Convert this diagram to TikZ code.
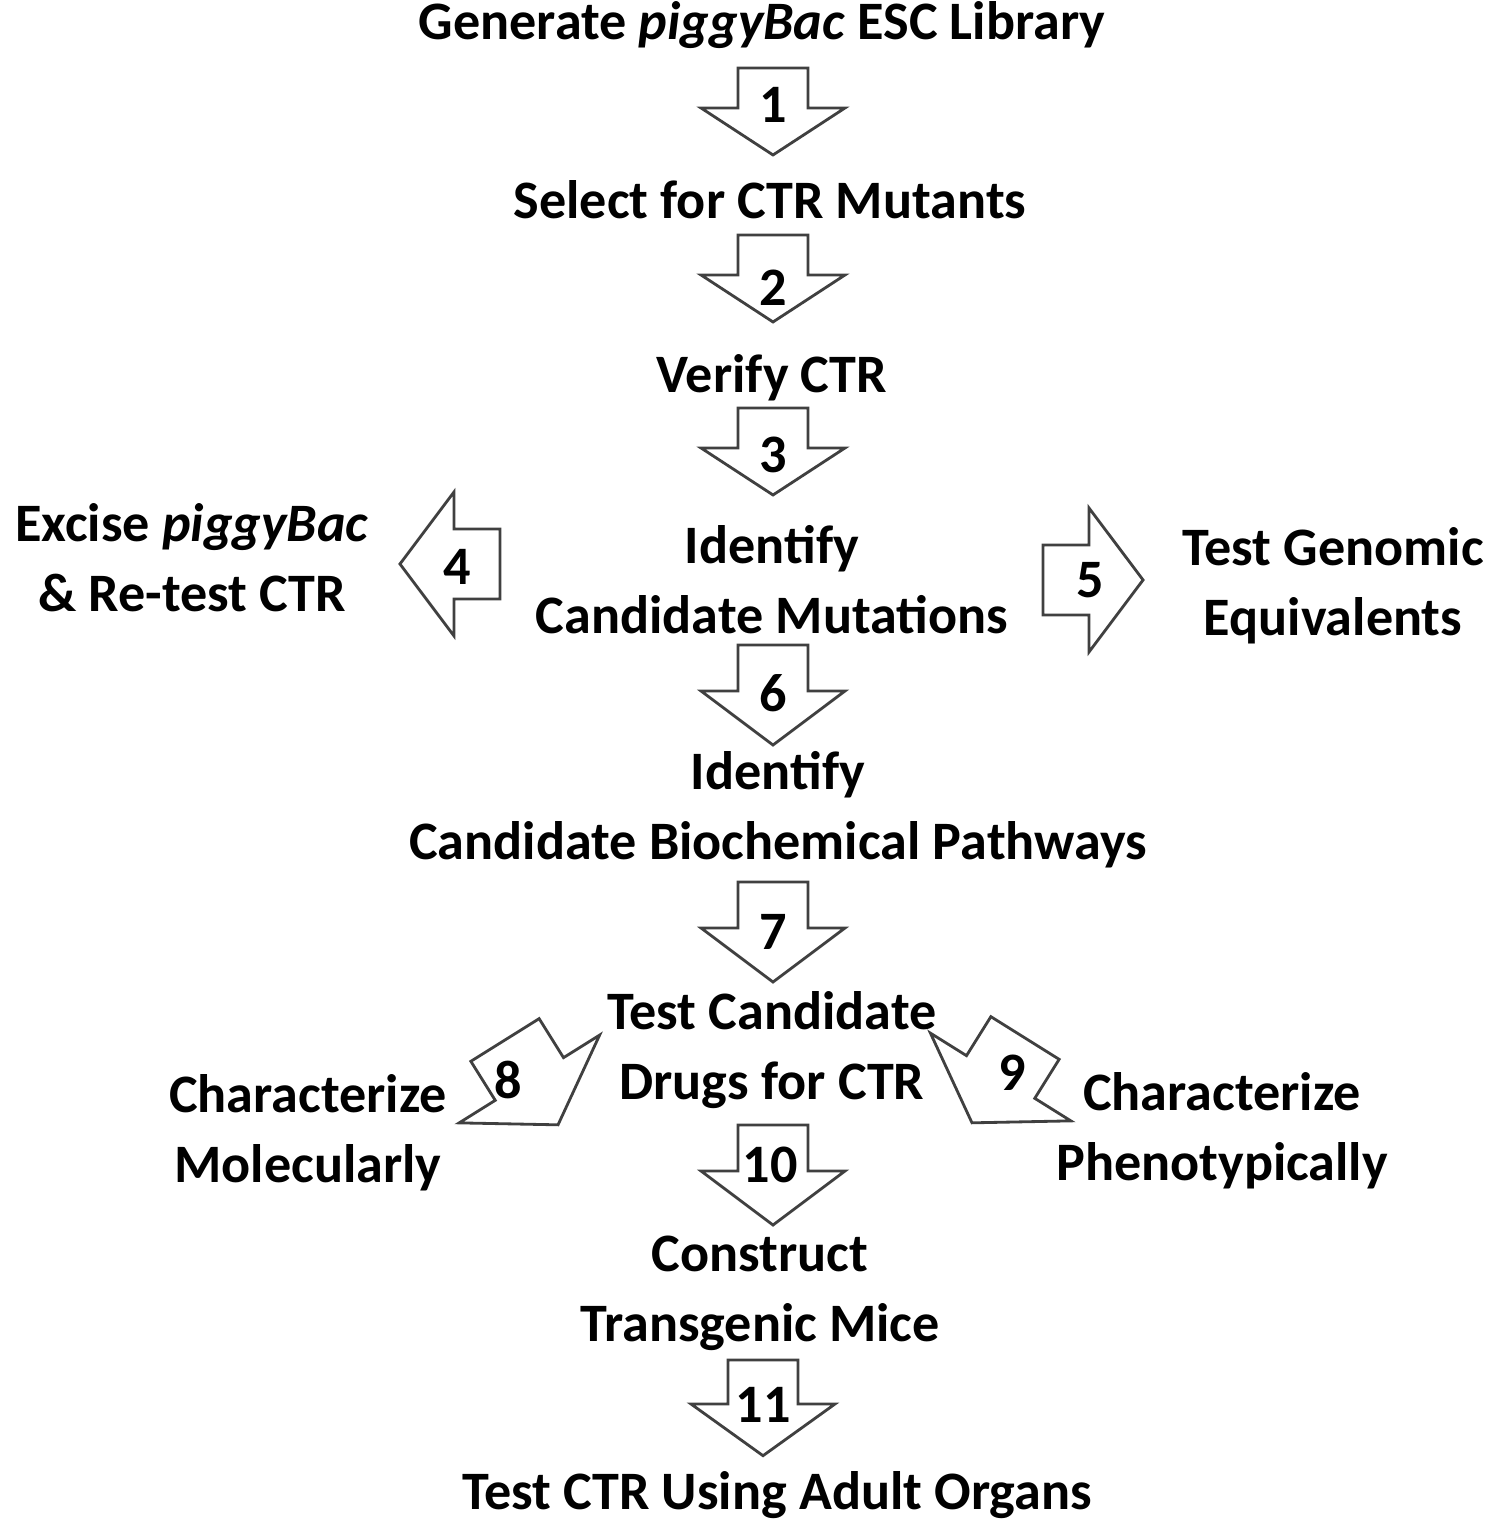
\documentclass[tikz,border=0pt]{standalone}
\usepackage{fontspec}
\setmainfont{Carlito}
\begin{document}
\begin{tikzpicture}[x=0.01cm,y=0.01cm]
  \tikzset{
    step label/.style={font=\bfseries\fontsize{15.4}{19.9}\selectfont,align=center,inner sep=0pt},
    num/.style={font=\bfseries\fontsize{15.4}{19.9}\selectfont,inner sep=0pt},
    arrowline/.style={draw=black!75,line width=0.8pt,fill=white,line join=miter},
    blockarrow/.pic={\draw[arrowline] (-35,0) -- (-35,-40) -- (-72,-40) -- (0,-87)
      -- (72,-40) -- (35,-40) -- (35,0) -- cycle;}
  }
  \useasboundingbox (0,0) rectangle (1500,1528);

  % steps
  \node[step label] (gen) at (762,1503) {Generate \emph{piggyBac} ESC Library};
  \node[step label] (sel) at (770,1328) {Select for CTR Mutants};
  \node[step label] (ver) at (772,1150) {Verify CTR};
  \node[step label] (idm) at (772,948) {Identify\\Candidate Mutations};
  \node[step label] (exc) at (192,970) {Excise \emph{piggyBac}\\\& Re-test CTR};
  \node[step label] (gnm) at (1333,942) {Test Genomic\\Equivalents};
  \node[step label] (idp) at (778,718) {Identify\\Candidate Biochemical Pathways};
  \node[step label] (drg) at (772,478) {Test Candidate\\Drugs for CTR};
  \node[step label] (mol) at (308,395) {Characterize\\Molecularly};
  \node[step label] (phe) at (1222,397) {Characterize\\Phenotypically};
  \node[step label] (mic) at (760,235) {Construct\\Transgenic Mice};
  \node[step label] (org) at (777,33) {Test CTR Using Adult Organs};

  % block arrows
  \pic at (773,1460) {blockarrow};
  \pic at (773,1293) {blockarrow};
  \pic at (773,1120) {blockarrow};
  \pic[rotate=-90,xscale=1.0,yscale=1.15] at (500,964) {blockarrow};
  \pic[rotate=90,yscale=1.15] at (1043,948) {blockarrow};
  \pic[yscale=1.15] at (773,883) {blockarrow};
  \pic[yscale=1.15] at (773,646) {blockarrow};
  \pic[rotate=32,scale=1.15] at (505,488) {blockarrow};
  \pic[rotate=-32,scale=1.15] at (1025,490) {blockarrow};
  \pic[yscale=1.15] at (773,403) {blockarrow};
  \pic[yscale=1.1] at (763,168) {blockarrow};

  % numbers
  \node[num] (n1) at (773,1423) {1};
  \node[num] (n2) at (773,1240) {2};
  \node[num] (n3) at (773,1073) {3};
  \node[num] (n4) at (457,961) {4};
  \node[num] (n5) at (1090,948) {5};
  \node[num] (n6) at (773,835) {6};
  \node[num] (n7) at (773,596) {7};
  \node[num] (n8) at (508,448) {8};
  \node[num] (n9) at (1012,455) {9};
  \node[num] (n10) at (770,363) {10};
  \node[num] (n11) at (763,123) {11};
\end{tikzpicture}
\end{document}
